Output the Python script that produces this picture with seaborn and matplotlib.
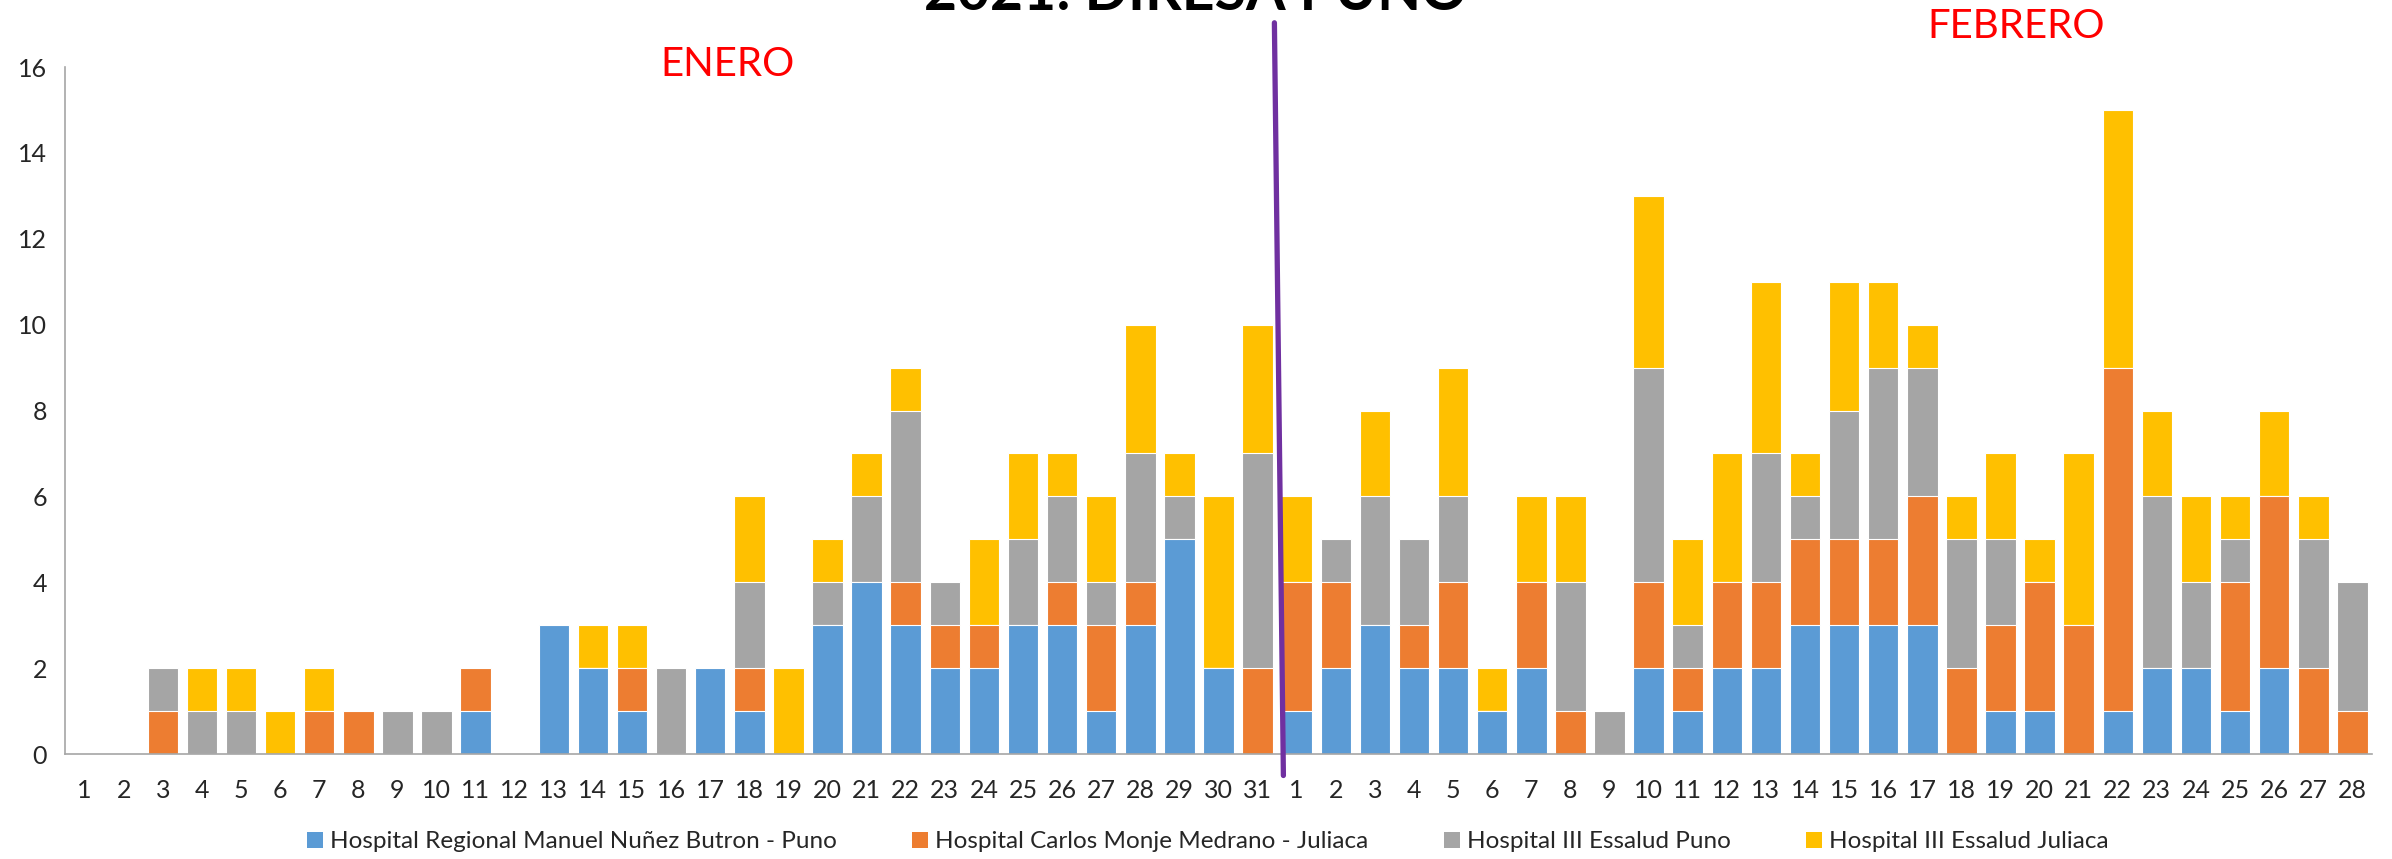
import numpy as np
import matplotlib
matplotlib.use("Agg")
import matplotlib.pyplot as plt
import seaborn as sns
from matplotlib.patches import Patch

# day labels: enero 1-31, febrero 1-28
days_jan = list(range(1, 32))
days_feb = list(range(1, 29))
day_labels = [str(d) for d in days_jan + days_feb]

# cases per hospital
regional_puno = [0, 0, 0, 0, 0, 0, 0, 0, 0, 0, 1, 0, 3, 2, 1, 0, 2, 1, 0, 3, 4, 3, 2, 2, 3, 3, 1, 3, 5, 2, 0,
                 1, 2, 3, 2, 2, 1, 2, 0, 0, 2, 1, 2, 2, 3, 3, 3, 3, 0, 1, 1, 0, 1, 2, 2, 1, 2, 0, 0]
monje_juliaca = [0, 0, 1, 0, 0, 0, 1, 1, 0, 0, 1, 0, 0, 0, 1, 0, 0, 1, 0, 0, 0, 1, 1, 1, 0, 1, 2, 1, 0, 0, 2,
                 3, 2, 0, 1, 2, 0, 2, 1, 0, 2, 1, 2, 2, 2, 2, 2, 3, 2, 2, 3, 3, 8, 0, 0, 3, 4, 2, 1]
essalud_puno = [0, 0, 1, 1, 1, 0, 0, 0, 1, 1, 0, 0, 0, 0, 0, 2, 0, 2, 0, 1, 2, 4, 1, 0, 2, 2, 1, 3, 1, 0, 5,
                0, 1, 3, 2, 2, 0, 0, 3, 1, 5, 1, 0, 3, 1, 3, 4, 3, 3, 2, 0, 0, 0, 4, 2, 1, 0, 3, 3]
essalud_juliaca = [0, 0, 0, 1, 1, 1, 1, 0, 0, 0, 0, 0, 0, 1, 1, 0, 0, 2, 2, 1, 1, 1, 0, 2, 2, 1, 2, 3, 1, 4, 3,
                   2, 0, 2, 0, 3, 1, 2, 2, 0, 4, 2, 3, 4, 1, 3, 2, 1, 1, 2, 1, 4, 6, 2, 2, 1, 2, 1, 0]

series_names = ["Hospital Regional Manuel Nuñez Butron - Puno",
                "Hospital Carlos Monje Medrano - Juliaca",
                "Hospital III Essalud Puno",
                "Hospital III Essalud Juliaca"]
series_colors = ["#5B9BD5", "#ED7D31", "#A5A5A5", "#FFC000"]

sns.set_style("white")
plt.rcParams["font.family"] = ["Lato", "DejaVu Sans"]

fig = plt.figure(figsize=(23.92, 8.59), dpi=100)
ax = fig.add_axes([0.0272, 0.1222, 0.9644, 0.7998])

pos = np.arange(len(day_labels))
stack = np.vstack([regional_puno, monje_juliaca, essalud_puno, essalud_juliaca])
cum = np.cumsum(stack, axis=0)

# draw tallest (total) first, then overlay the lower cumulative sums
for i in range(3, -1, -1):
    sns.barplot(x=pos, y=cum[i], color=series_colors[i], saturation=1, width=0.78,
                edgecolor="white", linewidth=0.8, ax=ax)

ax.set_xlim(-0.5, len(day_labels) - 0.5)
ax.set_ylim(0, 16)
ax.set_yticks(range(0, 17, 2))
ax.set_xticks(pos)
ax.set_xticklabels(day_labels)
ax.set_xlabel("")
ax.set_ylabel("")
ax.tick_params(axis="x", length=0, pad=18, labelsize=18)
ax.tick_params(axis="y", length=0, pad=13, labelsize=18)
for s in ["top", "right"]:
    ax.spines[s].set_visible(False)
for s in ["left", "bottom"]:
    ax.spines[s].set_color("#a6a6a6")
    ax.spines[s].set_linewidth(1.2)

# month divider
ax.plot([30.43, 30.66], [17.03, -0.5], color="#7030A0", linewidth=3.8, clip_on=False, zorder=5)

fig.text(0.5, 0.988, "2021: DIRESA PUNO", ha="center", va="baseline",
         fontsize=41, fontweight="bold", color="black")
fig.text(0.304, 0.925, "ENERO", ha="center", va="center", fontsize=29, color="#FF0000")
fig.text(0.843, 0.969, "FEBRERO", ha="center", va="center", fontsize=29, color="#FF0000")

handles = [Patch(facecolor=c, edgecolor="none") for c in series_colors]
fig.legend(handles, series_names, loc="center", bbox_to_anchor=(0.505, 0.02), ncol=4,
           frameon=False, fontsize=17.5, handlelength=0.65, handleheight=0.65,
           handletextpad=0.3, columnspacing=3.1)

fig.savefig("out.png", dpi=100)
